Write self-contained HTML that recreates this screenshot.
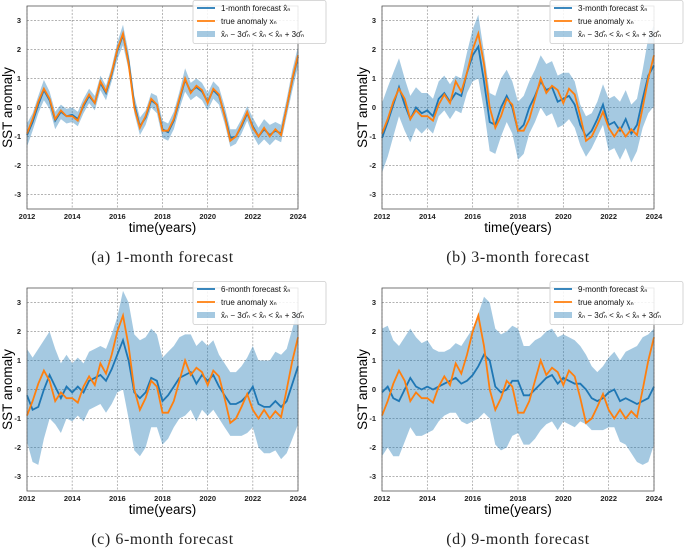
<!DOCTYPE html>
<html><head><meta charset="utf-8"><style>
html,body{margin:0;padding:0;background:#fff;}
svg{display:block;font-family:"Liberation Sans",sans-serif;}
</style></head><body>
<svg id="fig" width="685" height="550" viewBox="0 0 685 550"></svg>
<script>
const years=[2012,2012.25,2012.5,2012.75,2013,2013.25,2013.5,2013.75,2014,2014.25,2014.5,2014.75,2015,2015.25,2015.5,2015.75,2016,2016.25,2016.5,2016.75,2017,2017.25,2017.5,2017.75,2018,2018.25,2018.5,2018.75,2019,2019.25,2019.5,2019.75,2020,2020.25,2020.5,2020.75,2021,2021.25,2021.5,2021.75,2022,2022.25,2022.5,2022.75,2023,2023.25,2023.5,2023.75,2024];
const trueAnom=[-0.9,-0.4,0.2,0.65,0.3,-0.4,-0.1,-0.3,-0.3,-0.45,0.1,0.45,0.15,0.9,0.55,1.2,2.0,2.55,1.5,0.0,-0.7,-0.3,0.3,0.1,-0.8,-0.8,-0.4,0.3,1.0,0.5,0.75,0.6,0.15,0.65,0.45,-0.3,-1.15,-1.0,-0.6,-0.15,-0.7,-1.0,-0.7,-1.0,-0.75,-0.95,0.0,1.0,1.8];
const fc1=[-0.95,-0.5,0.1,0.6,0.25,-0.45,-0.15,-0.3,-0.25,-0.4,0.05,0.4,0.15,0.85,0.5,1.15,1.95,2.5,1.6,0.1,-0.65,-0.35,0.25,0.1,-0.75,-0.85,-0.45,0.25,0.95,0.55,0.7,0.55,0.2,0.6,0.4,-0.25,-1.05,-1.0,-0.65,-0.2,-0.65,-1.0,-0.75,-0.95,-0.8,-0.9,0.0,0.95,1.75];
const sig1=[0.4,0.3,0.3,0.35,0.3,0.3,0.25,0.25,0.25,0.25,0.25,0.25,0.25,0.25,0.25,0.25,0.3,0.35,0.3,0.3,0.3,0.25,0.25,0.3,0.3,0.3,0.3,0.3,0.4,0.3,0.3,0.3,0.3,0.3,0.3,0.3,0.3,0.25,0.25,0.25,0.3,0.3,0.35,0.35,0.3,0.3,0.3,0.35,0.35];
const fc3=[-1.05,-0.5,0.1,0.7,0.1,-0.4,0.0,-0.2,-0.1,-0.3,0.3,0.5,0.2,0.5,0.4,1.2,1.8,2.1,0.9,-0.5,-0.6,0.0,0.4,0.0,-0.8,-0.6,0.0,0.4,0.9,0.6,0.7,0.2,0.3,0.4,0.1,-0.6,-1.0,-0.8,-0.4,0.1,-0.6,-0.5,-0.8,-0.4,-0.9,-0.6,0.3,1.1,1.45];
const sig3=[1.2,1.2,1.1,1.0,0.9,0.8,0.7,0.7,0.6,0.6,0.6,0.6,0.6,0.6,0.6,0.7,0.9,1.1,1.0,1.0,1.0,1.0,0.9,0.9,1.0,1.0,0.9,0.9,0.9,0.9,0.9,0.9,0.9,0.8,0.8,0.7,0.7,0.6,0.6,0.7,0.9,0.9,1.0,1.0,1.0,0.9,1.0,1.3,1.4];
const fc6=[-0.2,-0.7,-0.6,0.0,0.5,0.1,-0.3,0.1,-0.1,0.1,-0.1,0.3,0.4,0.5,0.3,0.7,1.2,1.7,1.0,-0.1,-0.3,-0.1,0.4,0.3,-0.4,-0.2,0.1,0.4,0.5,0.6,0.2,0.5,0.3,0.5,0.1,-0.2,-0.5,-0.5,-0.4,-0.2,0.1,-0.5,-0.6,-0.6,-0.4,-0.6,-0.4,0.2,0.8];
const sig6=[1.6,1.8,2.0,1.7,1.5,1.3,1.2,1.1,1.0,1.0,1.0,1.0,1.0,1.0,1.1,1.2,1.3,1.7,2.0,2.0,2.0,1.9,1.7,1.6,1.5,1.5,1.4,1.4,1.4,1.3,1.3,1.2,1.2,1.2,1.1,1.1,1.1,1.1,1.2,1.3,1.4,1.5,1.6,1.6,1.7,1.8,1.8,1.9,2.0];
const fc9=[-0.1,0.1,-0.3,-0.4,0.0,0.4,0.1,0.0,0.1,0.0,0.1,0.2,0.3,0.4,0.2,0.3,0.5,0.8,1.2,1.0,0.1,-0.1,0.0,0.3,0.3,-0.2,-0.2,0.0,0.2,0.4,0.5,0.2,0.4,0.3,0.2,0.2,0.0,-0.3,-0.4,-0.3,-0.1,0.0,-0.4,-0.3,-0.4,-0.5,-0.4,-0.3,0.1];
const sig9=[2.2,2.1,2.0,1.9,1.8,1.7,1.7,1.6,1.6,1.4,1.2,1.1,1.1,1.2,1.3,1.5,1.6,1.8,2.0,2.0,2.0,2.0,2.0,1.9,1.8,1.7,1.7,1.7,1.6,1.6,1.6,1.6,1.5,1.5,1.5,1.3,1.2,1.1,1.0,1.1,1.2,1.3,1.4,1.6,1.8,2.0,2.2,2.2,2.0];
const xTicks=[2012,2014,2016,2018,2020,2022,2024];
const yTicks=[-3,-2,-1,0,1,2,3];

const NS="http://www.w3.org/2000/svg";
const svg=document.getElementById('fig');
function mk(tag,attrs,parent){const e=document.createElementNS(NS,tag);for(const k in attrs)e.setAttribute(k,attrs[k]);(parent||svg).appendChild(e);return e;}

const panels=[
 {fc:fc1,sg:sig1,x0:27,x1:298,y0:6,y1:209,lab:"1-month",cap:"(a) 1-month forecast",lx:193,ly:0,key:"a"},
 {fc:fc3,sg:sig3,x0:382,x1:654,y0:6,y1:209,lab:"3-month",cap:"(b) 3-month forecast",lx:550,ly:0,key:"b"},
 {fc:fc6,sg:sig6,x0:27,x1:298,y0:288,y1:491,lab:"6-month",cap:"(c) 6-month forecast",lx:193,ly:281,key:"c"},
 {fc:fc9,sg:sig9,x0:382,x1:654,y0:288,y1:491,lab:"9-month",cap:"(d) 9-month forecast",lx:550,ly:281,key:"d"}
];
panels.forEach(p=>{
 const g=mk('g',{});
 
 
 const X=v=>p.x0+(v-2012)/12*(p.x1-p.x0);
 const Y=v=>p.y1-(v+3.5)/7*(p.y1-p.y0);
 xTicks.forEach(t=>{const l=mk('line',{x1:X(t),x2:X(t),y1:p.y0,y2:p.y1,stroke:'#999','stroke-width':0.7,'stroke-dasharray':'2,1.5'},g);
   });
 yTicks.forEach(t=>{const l=mk('line',{x1:p.x0,x2:p.x1,y1:Y(t),y2:Y(t),stroke:'#999','stroke-width':0.7,'stroke-dasharray':'2,1.5'},g);
   });
 let d='';
 years.forEach((yr,i)=>{d+=(i?'L':'M')+X(yr).toFixed(1)+','+Y(p.fc[i]+p.sg[i]).toFixed(1);});
 for(let i=years.length-1;i>=0;i--)d+='L'+X(years[i]).toFixed(1)+','+Y(p.fc[i]-p.sg[i]).toFixed(1);
 const band=mk('path',{d:d+'Z',fill:'#1f77b4','fill-opacity':0.4,stroke:'none'},g);
 
 const line=(arr)=>years.map((yr,i)=>X(yr).toFixed(1)+','+Y(arr[i]).toFixed(1)).join(' ');
 const fl=mk('polyline',{points:line(p.fc),fill:'none',stroke:'#1f77b4','stroke-width':1.8},g);
 
 const tl=mk('polyline',{points:line(trueAnom),fill:'none',stroke:'#ff7f0e','stroke-width':1.8},g);
 
 const fr=mk('rect',{x:p.x0,y:p.y0,width:p.x1-p.x0,height:p.y1-p.y0,fill:'none',stroke:'#555','stroke-width':0.8},g);
 
 xTicks.forEach(t=>{const tx=mk('text',{x:X(t),y:p.y1+10,'font-size':7.5,'font-weight':'bold','text-anchor':'middle',fill:'#222'},g);tx.textContent=t;
   });
 yTicks.forEach(t=>{const tx=mk('text',{x:p.x0-6,y:Y(t)+2.5,'font-size':7.5,'font-weight':'bold','text-anchor':'end',fill:'#222'},g);tx.textContent=t;
   });
 const cx=(p.x0+p.x1)/2;
 const xl=mk('text',{x:cx,y:p.y1+23,'font-size':13.5,'text-anchor':'middle',fill:'#000'},g);xl.textContent='time(years)';
 
 const yl=mk('text',{x:0,y:0,'font-size':13.5,'text-anchor':'middle',fill:'#000',transform:`translate(${p.x0-15},${(p.y0+p.y1)/2}) rotate(-90)`},g);yl.textContent='SST anomaly';
 
 const cp=mk('text',{x:cx,y:p.y1+53,'font-size':16,'letter-spacing':'0.6','text-anchor':'middle',fill:'#222','font-family':'"Liberation Serif",serif'},g);cp.textContent=p.cap;
 
 const lg=mk('g',{},g);
 
 mk('rect',{x:p.lx,y:p.ly+0.5,width:133,height:43,fill:'#fff','fill-opacity':0.85,stroke:'#ccc','stroke-width':0.8,rx:2},lg);
 const items=[[p.lab+' forecast x̂ₙ','#1f77b4','line'],['true anomaly xₙ','#ff7f0e','line'],['x̂ₙ − 3σ̂ₙ < x̂ₙ < x̂ₙ + 3σ̂ₙ','#1f77b4','patch']];
 items.forEach((it,i)=>{
  const ey=p.ly+8+i*13;
  const e=mk('g',{},lg);
  
  if(it[2]=='line')mk('line',{x1:p.lx+4,x2:p.lx+22,y1:ey,y2:ey,stroke:it[1],'stroke-width':1.8},e);
  else mk('rect',{x:p.lx+4,y:ey-3,width:18,height:6,fill:it[1],'fill-opacity':0.4},e);
  const t=mk('text',{x:p.lx+28,y:ey+3,'font-size':8,fill:'#111'},e);t.textContent=it[0];
 });
});
</script>
</body></html>
